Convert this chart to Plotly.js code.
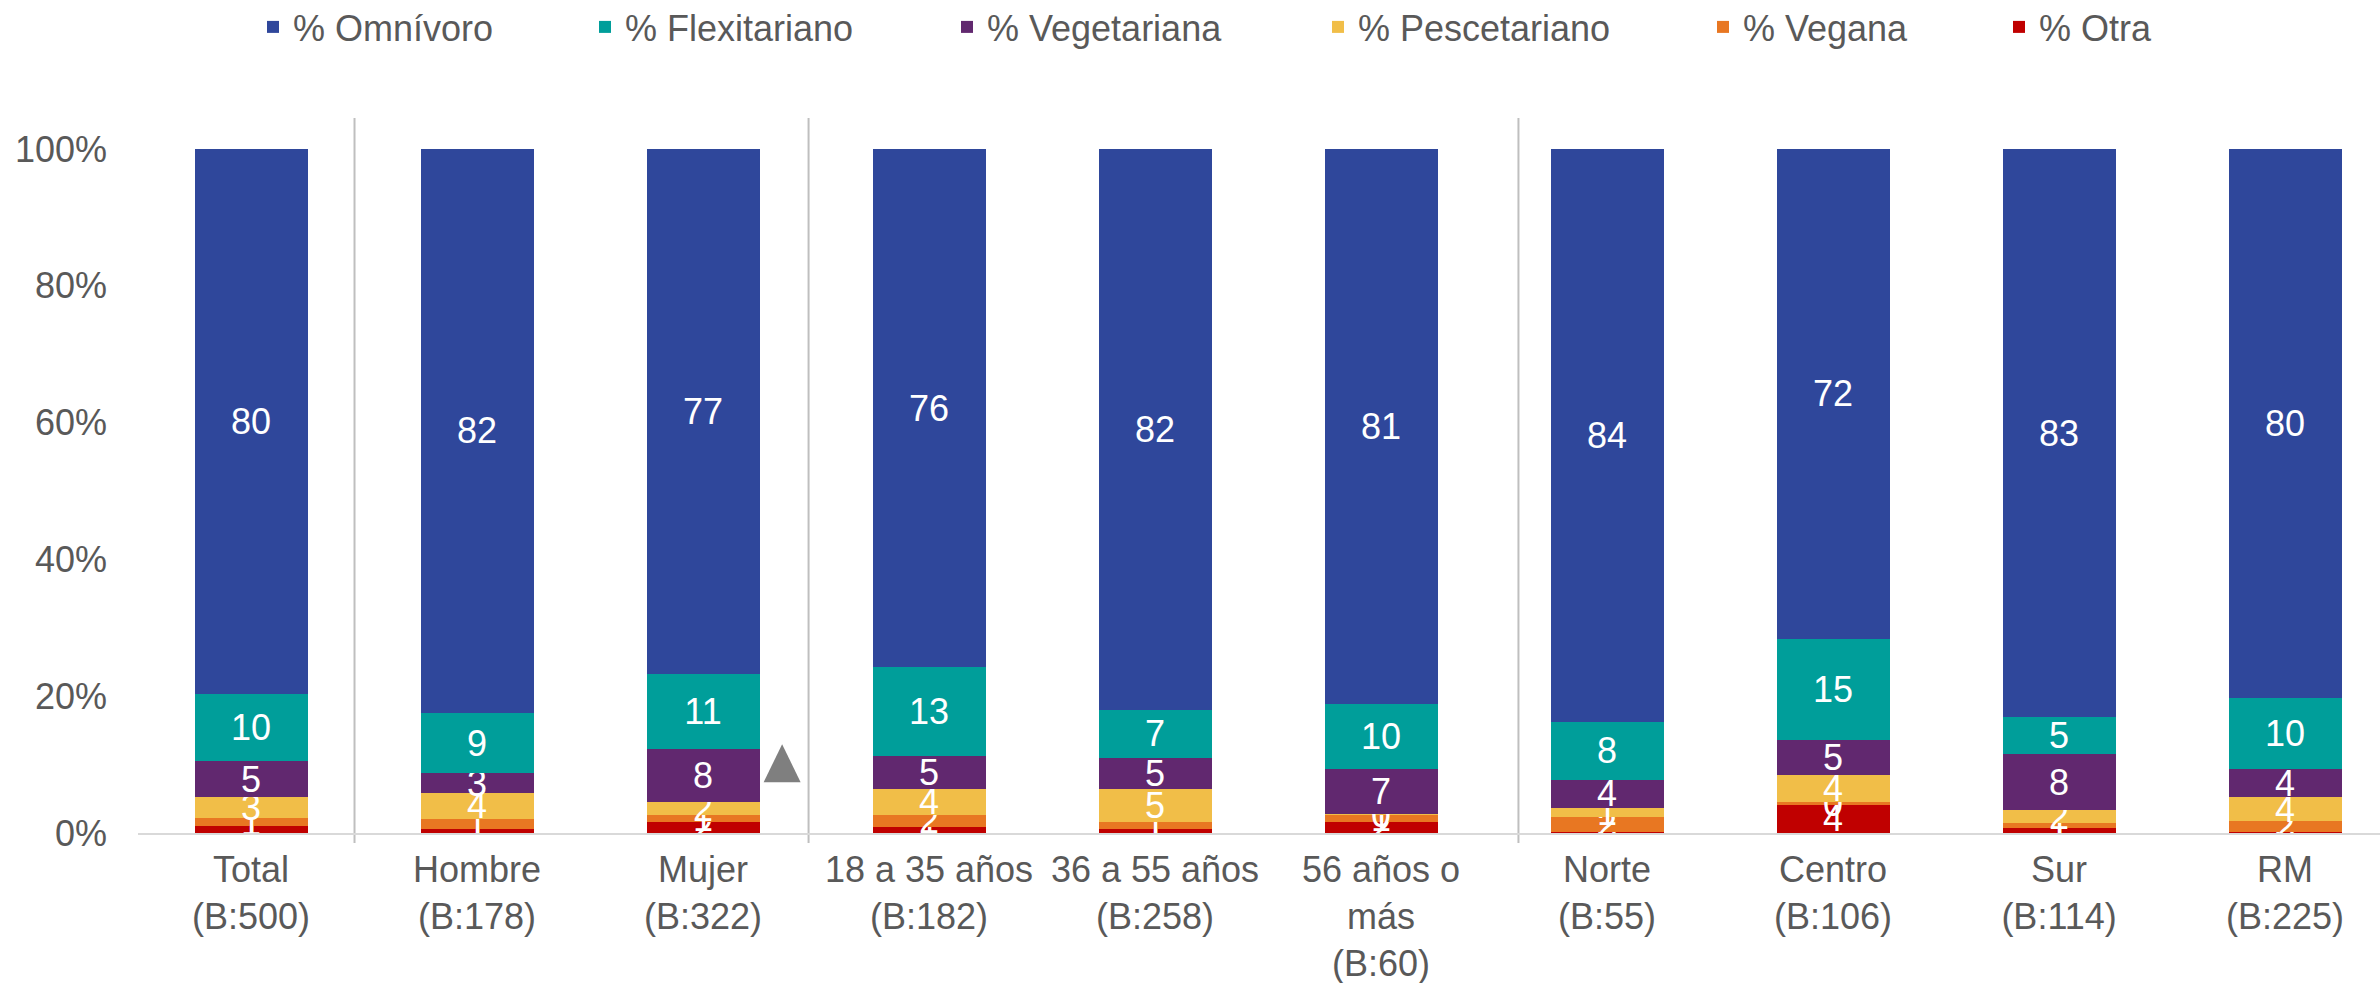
<!DOCTYPE html>
<html>
<head>
<meta charset="utf-8">
<script src="https://cdn.plot.ly/plotly-3.0.1.min.js"></script>
<style>
  html, body { margin: 0; padding: 0; background: #ffffff; }
  #chart { width: 2380px; height: 983px; }
</style>
</head>
<body>
<div id="chart"></div>
<script>
// ---- Data (percent of each group) ----
const categories = [
  'Total<br>(B:500)',
  'Hombre<br>(B:178)',
  'Mujer<br>(B:322)',
  '18 a 35 años<br>(B:182)',
  '36 a 55 años<br>(B:258)',
  '56 años o<br>más<br>(B:60)',
  'Norte<br>(B:55)',
  'Centro<br>(B:106)',
  'Sur<br>(B:114)',
  'RM<br>(B:225)'
];
const otra          = [1.0, 0.6, 1.6, 0.9, 0.6, 1.6, 0.1, 4.1, 0.7, 0.1];
const vegana        = [1.2, 1.4, 1.0, 1.8, 1.0, 1.1, 2.3, 0.4, 0.8, 1.6];
const pescetariano  = [3.0, 3.9, 2.0, 3.7, 4.8, 0.1, 1.3, 4.0, 1.8, 3.6];
const vegetariana   = [5.3, 2.8, 7.7, 4.9, 4.6, 6.5, 4.1, 5.1, 8.3, 4.0];
const flexitariano  = [9.8, 8.9, 10.9, 12.9, 7.0, 9.5, 8.4, 14.8, 5.3, 10.4];
const omnivoro      = [79.7, 82.4, 76.8, 75.8, 82.0, 81.2, 83.8, 71.6, 83.1, 80.3];

const seriesNames = ['% Otra', '% Vegana', '% Pescetariano', '% Vegetariana', '% Flexitariano', '% Omnívoro'];
const seriesValues = [otra, vegana, pescetariano, vegetariana, flexitariano, omnivoro];

const yTickVals = [0, 20, 40, 60, 80, 100];
const yTickText = ['0%', '20%', '40%', '60%', '80%', '100%'];

// significance marker (category index, value in %)
const signifCategoryIndex = 2;
const signifValue = 10.2;

// ---- Styles ----
const colors = ['#C00000', '#E87722', '#F1BE48', '#61286F', '#009E9A', '#2F479B'];
const FONT = 'Liberation Sans, Arial, sans-serif';
const GREY = '#595959';
const W = 2380, H = 983;
const margin = {l: 138, r: 0, t: 149, b: 150};
const xRange = [-0.5, 9.42];

// legend left edges (px) per series, in seriesNames order
const legendLeftPx = [1999, 1703, 1318, 947, 585, 253];
const legendIds = ['legend', 'legend2', 'legend3', 'legend4', 'legend5', 'legend6'];

const traces = seriesValues.map((vals, i) => ({
  type: 'bar',
  name: seriesNames[i],
  x: categories,
  y: vals,
  marker: {color: colors[i], line: {width: 0}},
  texttemplate: '%{y:.0f}',
  textposition: 'inside',
  insidetextanchor: 'middle',
  constraintext: 'none',
  textangle: 0,
  cliponaxis: false,
  textfont: {family: FONT, size: 36, color: '#ffffff'},
  hoverinfo: 'skip',
  legend: legendIds[i]
}));

const layout = {
  width: W,
  height: H,
  margin: margin,
  paper_bgcolor: '#ffffff',
  plot_bgcolor: '#ffffff',
  barmode: 'stack',
  bargap: 0.5,
  font: {family: FONT, size: 36, color: GREY},
  xaxis: {
    type: 'category',
    range: xRange,
    showline: true,
    linecolor: '#D9D9D9',
    linewidth: 2,
    ticks: '',
    showgrid: false,
    zeroline: false,
    tickfont: {family: FONT, size: 36, color: GREY},
    ticklabelstandoff: 4
  },
  yaxis: {
    range: [0, 100],
    tickvals: yTickVals,
    ticktext: yTickText,
    showgrid: false,
    zeroline: false,
    showline: false,
    ticks: '',
    tickfont: {family: FONT, size: 36, color: GREY},
    ticklabelstandoff: 30
  },
  showlegend: true,
  shapes: [],
  annotations: []
};

// one small legend per series so each entry sits where the reference puts it
legendIds.forEach((id, i) => {
  layout[id] = {
    orientation: 'h',
    xref: 'container', yref: 'container',
    x: legendLeftPx[i] / W, xanchor: 'left',
    y: 1 - 27 / H, yanchor: 'middle',
    font: {family: FONT, size: 36, color: GREY},
    bgcolor: 'rgba(0,0,0,0)',
    borderwidth: 0
  };
});

// group separators (category-index positions)
const plotH = H - margin.t - margin.b;
const sepX = [0.458, 2.467, 5.608];
sepX.forEach(xv => {
  layout.shapes.push({
    type: 'line', xref: 'x', yref: 'paper',
    x0: xv, x1: xv, y0: -10 / plotH, y1: 1 + 31 / plotH,
    line: {color: '#BFBFBF', width: 2},
    layer: 'below'
  });
});

// significance triangle
const plotW = W - margin.l - margin.r;
const span = xRange[1] - xRange[0];
const cx = (signifCategoryIndex + 0.35 - xRange[0]) / span;
const cy = signifValue / 100;
const hw = 18.5 / plotW, hh = 19 / plotH;
layout.shapes.push({
  type: 'path', xref: 'paper', yref: 'paper',
  path: `M ${cx - hw} ${cy - hh} L ${cx + hw} ${cy - hh} L ${cx} ${cy + hh} Z`,
  fillcolor: '#7F7F7F', line: {width: 0}
});

Plotly.newPlot('chart', traces, layout, {displayModeBar: false, staticPlot: true});
</script>
</body>
</html>
